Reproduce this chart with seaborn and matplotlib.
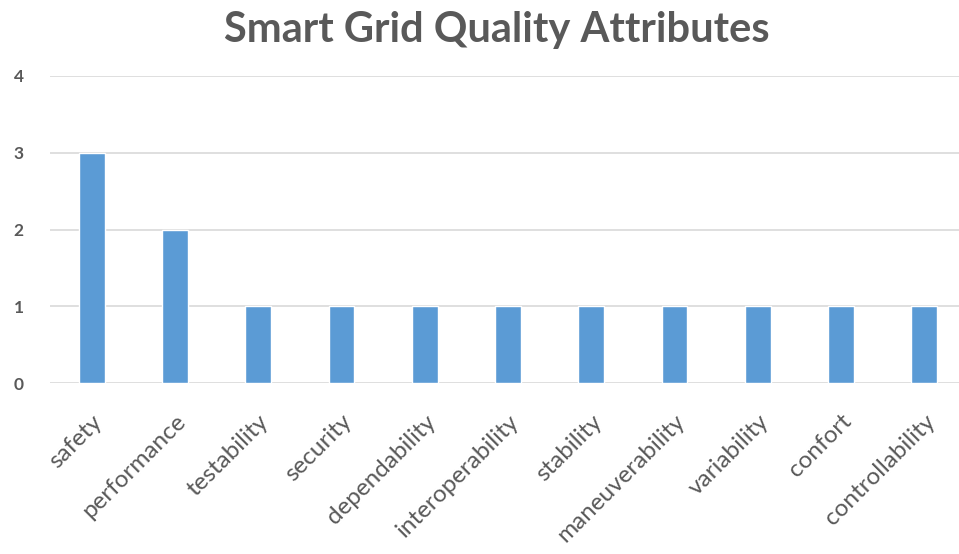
import matplotlib
matplotlib.use("Agg")
import matplotlib.pyplot as plt
import seaborn as sns
import pandas as pd

# data
attributes = ["safety", "performance", "testability", "security", "dependability",
              "interoperability", "stability", "maneuverability", "variability",
              "confort", "controllability"]
counts = [3, 2, 1, 1, 1, 1, 1, 1, 1, 1, 1]

sns.set_theme(style="white")
plt.rcParams['font.family'] = ['Lato', 'DejaVu Sans']

df = pd.DataFrame({"attribute": attributes, "count": counts})

fig = plt.figure(figsize=(9.59, 5.54), dpi=100)
ax = fig.add_axes([50 / 959, 171 / 554, 916 / 959, 307 / 554])

sns.barplot(data=df, x="attribute", y="count", color="#5B9BD5",
            width=0.31, saturation=1, ax=ax, zorder=3)

ax.set_ylim(0, 4)
ax.set_xlim(-0.5, len(attributes) - 0.5)
ax.set_yticks([0, 1, 2, 3, 4])
ax.yaxis.grid(True, color="#D9D9D9", linewidth=1.2, zorder=0)
for s in ax.spines.values():
    s.set_visible(False)

ax.set_xlabel("")
ax.set_ylabel("")
ax.tick_params(axis="y", length=0, pad=19, labelsize=12.5, labelcolor="#595959")
ax.tick_params(axis="x", length=0, pad=20, labelsize=17.5, labelcolor="#595959")
for lbl in ax.get_yticklabels():
    lbl.set_fontweight("bold")
plt.setp(ax.get_xticklabels(), rotation=45, ha="right", rotation_mode="anchor")

fig.suptitle("Smart Grid Quality Attributes", x=0.518, y=0.98, fontsize=30,
             fontweight="bold", color="#595959")

plt.savefig("out.png", dpi=100)
